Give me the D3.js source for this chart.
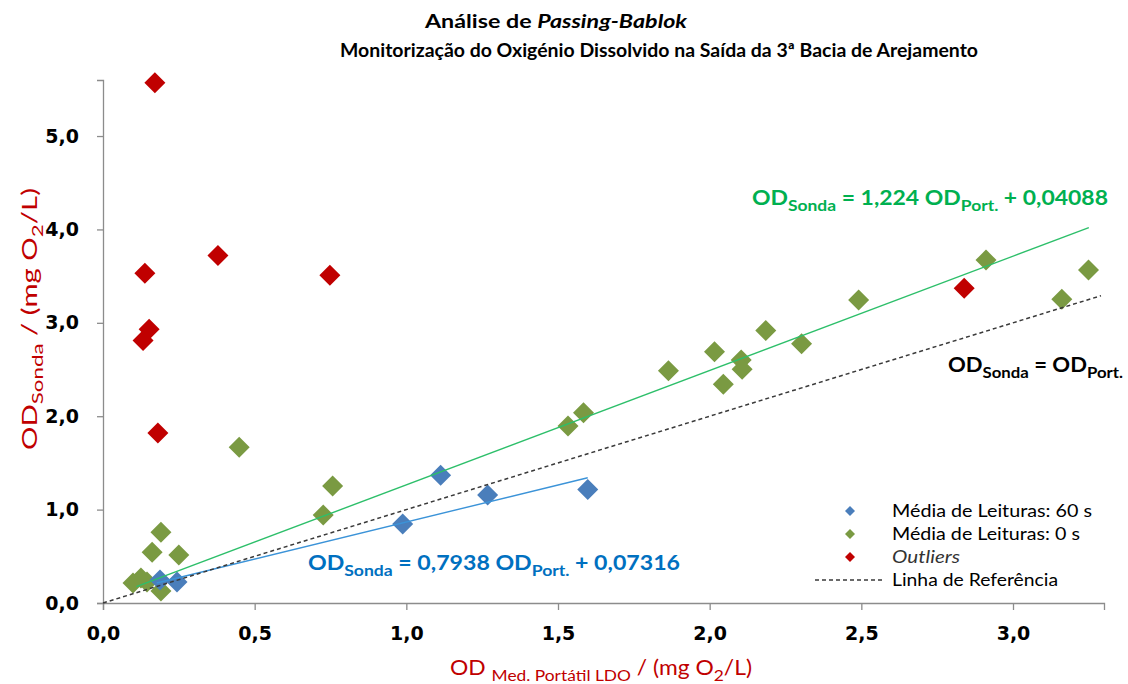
<!DOCTYPE html>
<html>
<head>
<meta charset="utf-8">
<script src="https://cdn.jsdelivr.net/npm/d3@7"></script>
<style>
  body { margin: 0; background: #fff; }
  svg { font-family: Lato, "Open Sans", sans-serif; }
</style>
</head>
<body>
<div id="chart"></div>
<script>
// data
var blueX = [0.188, 0.244, 0.988, 1.113, 1.268, 1.598];
var blueY = [0.246, 0.225, 0.846, 1.367, 1.156, 1.215];

var greenX = [0.099, 0.125, 0.145, 0.191, 0.162, 0.191, 0.250, 0.449, 0.726, 0.757, 1.533, 1.584,
  1.864, 2.016, 2.045, 2.104, 2.107, 2.185, 2.303, 2.491, 2.911, 3.161, 3.249];
var greenY = [0.214, 0.268, 0.225, 0.128, 0.543, 0.757, 0.514, 1.667, 0.942, 1.253, 1.895, 2.037,
  2.487, 2.691, 2.342, 2.602, 2.502, 2.917, 2.776, 3.244, 3.672, 3.252, 3.565];

var redX = [0.171, 0.138, 0.379, 0.748, 0.152, 0.132, 0.181, 2.839];
var redY = [5.57, 3.53, 3.72, 3.51, 2.93, 2.81, 1.82, 3.369];

// Passing-Bablok fits: [slope, intercept, xStart, xEnd]
var greenFit = [1.224, 0.04088, 0.11, 3.25];
var blueFit = [0.7938, 0.07316, 0.177, 1.598];
var refLine = [1, 0, 0, 3.29];

var xTicks = [0, 0.5, 1, 1.5, 2, 2.5, 3];
var yTicks = [0, 1, 2, 3, 4, 5];

var legendLabels = ["Média de Leituras: 60 s", "Média de Leituras: 0 s", "Outliers", "Linha de Referência"];

var width = 1128, height = 684;
var C_BLUE = "#4a7ebb", C_GREEN = "#7a9a42", C_RED = "#c00000";

var svg = d3.select("#chart").append("svg")
  .attr("width", width)
  .attr("height", height);

var x = d3.scaleLinear().domain([0, 3.3]).range([103, 1104]);
var y = d3.scaleLinear().domain([0, 5.6]).range([603, 80]);

var fmt = function (d) { return d3.format(".1f")(d).replace(".", ","); };

// axes
var xAxis = svg.append("g")
  .attr("transform", "translate(0,603)")
  .call(d3.axisBottom(x).tickValues(xTicks).tickSize(7).tickPadding(17).tickFormat(fmt));
var yAxis = svg.append("g")
  .attr("transform", "translate(103,0)")
  .call(d3.axisLeft(y).tickValues(yTicks).tickSize(6).tickPadding(18).tickFormat(fmt));

[xAxis, yAxis].forEach(function (a) {
  a.select(".domain").attr("stroke", "#8c8c8c").attr("stroke-width", 1.3);
  a.selectAll(".tick line").attr("stroke", "#8c8c8c").attr("stroke-width", 1.3);
  a.selectAll(".tick text")
    .attr("fill", "#000")
    .style("font-size", "19px")
    .style("font-weight", "bold")
    .style("font-family", "'DejaVu Sans', sans-serif");
});

// markers
function diamond(cx, cy, r) {
  return "M" + cx + "," + (cy - r) + "L" + (cx + r) + "," + cy + "L" + cx + "," + (cy + r) + "L" + (cx - r) + "," + cy + "Z";
}

function drawSeries(xs, ys, color) {
  svg.append("g").selectAll("path")
    .data(xs.map(function (d, i) { return [d, ys[i]]; }))
    .enter()
    .append("path")
    .attr("d", function (d) { return diamond(x(d[0]), y(d[1]), 10.5); })
    .attr("fill", color);
}
drawSeries(greenX, greenY, C_GREEN);
drawSeries(blueX, blueY, C_BLUE);
drawSeries(redX, redY, C_RED);

// fit lines
function drawFit(f, color, w, dash) {
  svg.append("line")
    .attr("x1", x(f[2])).attr("y1", y(f[0] * f[2] + f[1]))
    .attr("x2", x(f[3])).attr("y2", y(f[0] * f[3] + f[1]))
    .attr("stroke", color)
    .attr("stroke-width", w)
    .attr("stroke-dasharray", dash || null);
}
drawFit(greenFit, "#2dbf6a", 1.4);
drawFit(blueFit, "#3b93d8", 1.4);
drawFit(refLine, "#3a3a3a", 1.5, "4,3");

// text with subscripts, stretched to the width seen in the picture
function richText(px, py, parts, size, color, weight, anchor, len) {
  var t = svg.append("text")
    .attr("x", px).attr("y", py)
    .attr("fill", color)
    .attr("text-anchor", anchor || "start")
    .style("font-size", size + "px")
    .style("font-weight", weight || "normal");
  if (len) t.attr("textLength", len).attr("lengthAdjust", "spacingAndGlyphs");
  var shift = 0;
  parts.forEach(function (p) {
    var sub = p[1] === "sub";
    var dy = sub ? size * 0.3 - shift : -shift;
    shift = sub ? size * 0.3 : 0;
    t.append("tspan")
      .attr("dy", dy)
      .style("font-size", (sub ? size * 0.76 : size) + "px")
      .style("font-style", p[1] === "it" ? "italic" : null)
      .text(p[0]);
  });
  return t;
}

// title
richText(425, 28, [["Análise de "], ["Passing-Bablok", "it"]], 19, "#000", "bold", "start", 262);
richText(340, 57, [["Monitorização do Oxigénio Dissolvido na Saída da 3ª Bacia de Arejamento"]], 19, "#000", "bold", "start", 638);

// equations
richText(752, 205, [["OD"], ["Sonda", "sub"], [" = 1,224 OD"], ["Port.", "sub"], [" + 0,04088"]], 20, "#00b050", "bold", "start", 356);
richText(308, 570, [["OD"], ["Sonda", "sub"], [" = 0,7938 OD"], ["Port.", "sub"], [" + 0,07316"]], 20, "#0070c0", "bold", "start", 372);
richText(948, 372, [["OD"], ["Sonda", "sub"], [" = OD"], ["Port.", "sub"]], 20, "#000", "bold", "start", 175);

// axis titles
richText(450, 675, [["OD "], ["Med. Portátil LDO", "sub"], [" / (mg O"], ["2", "sub"], ["/L)"]], 21, C_RED, "normal", "start", 302);
richText(-450, 37, [["OD"], ["Sonda", "sub"], [" / (mg O"], ["2", "sub"], ["/L)"]], 21, C_RED, "normal", "start", 262)
  .attr("transform", "rotate(-90)");

// legend
var legend = svg.append("g");
var legendColors = [C_BLUE, C_GREEN, C_RED];
var legendLen = [200, 188, 68, 166];
legendLabels.forEach(function (lab, i) {
  var ly = [511, 534, 557, 580][i];
  if (i < 3) {
    legend.append("path").attr("d", diamond(850, ly, 5)).attr("fill", legendColors[i]);
  } else {
    legend.append("line")
      .attr("x1", 815).attr("x2", 883).attr("y1", ly).attr("y2", ly)
      .attr("stroke", "#3a3a3a").attr("stroke-width", 1.3).attr("stroke-dasharray", "4,3");
  }
  legend.append("text")
    .attr("x", 892).attr("y", ly + 6)
    .attr("textLength", legendLen[i])
    .attr("lengthAdjust", "spacingAndGlyphs")
    .style("font-size", "16.5px")
    .style("font-style", i === 2 ? "italic" : null)
    .attr("fill", i === 2 ? "#333" : "#000")
    .text(lab);
});
</script>
</body>
</html>
